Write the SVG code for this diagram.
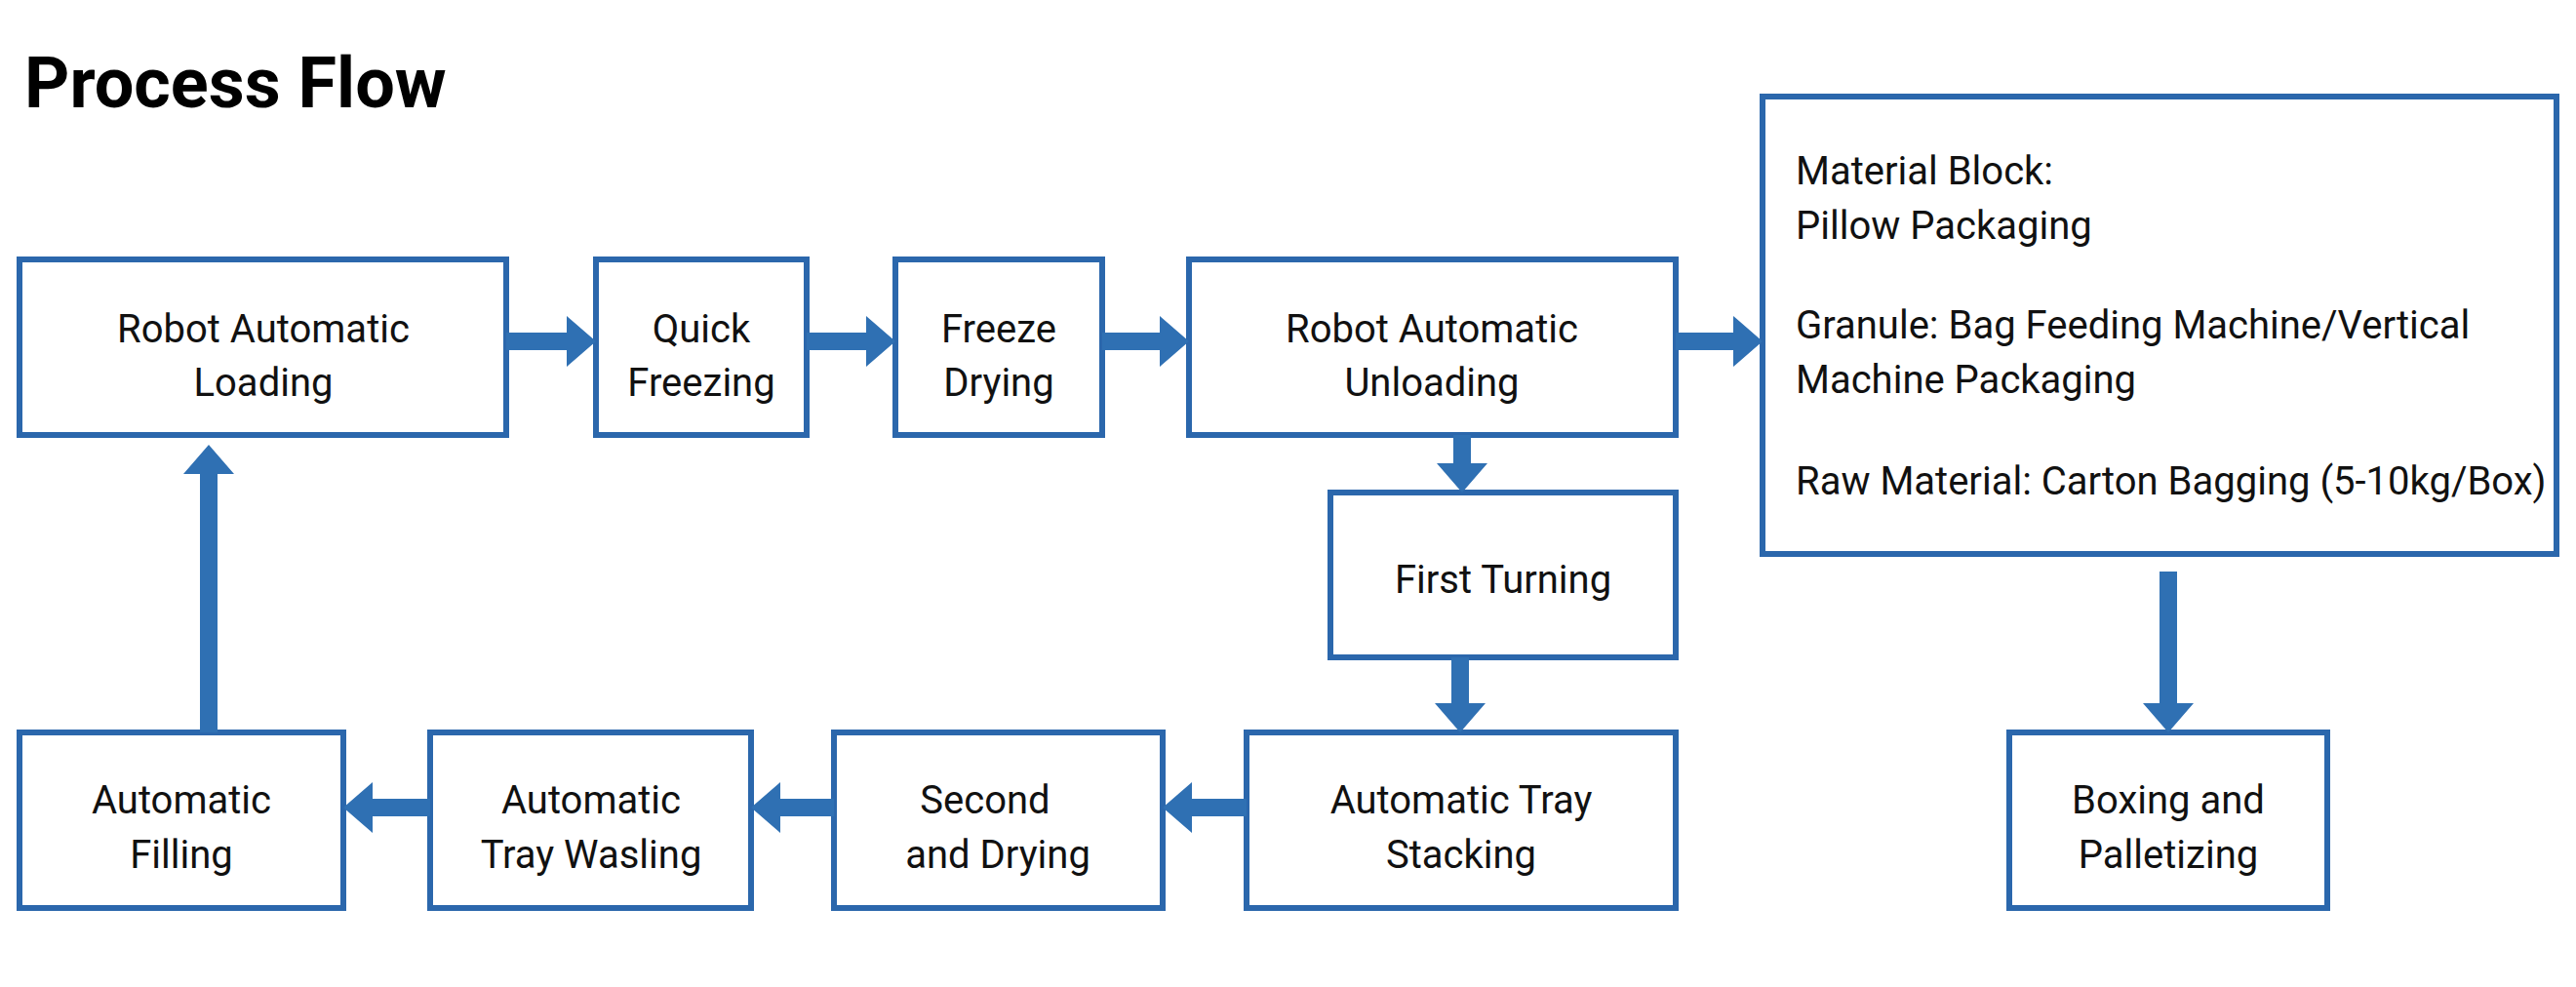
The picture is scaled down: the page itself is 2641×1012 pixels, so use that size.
<svg xmlns="http://www.w3.org/2000/svg" width="2641" height="1012" viewBox="0 0 2641 1012">
<style>
.b{fill:#fff;stroke:#2b67ac;stroke-width:6}
.t{font-family:Roboto,"Liberation Sans",sans-serif;font-size:40px;fill:#111;text-anchor:middle}
.l{text-anchor:start}
.a{fill:#2f70b3}
</style>
<rect width="2641" height="1012" fill="#fff"/>
<text x="25" y="110" font-family="Roboto,'Liberation Sans',sans-serif" font-weight="bold" font-size="72" fill="#000">Process Flow</text>
<g id="n1"><rect class="b" x="20" y="266" width="499" height="180"/><text class="t" x="270" y="351">Robot Automatic</text><text class="t" x="270" y="406">Loading</text></g>
<g id="n2"><rect class="b" x="611" y="266" width="216" height="180"/><text class="t" x="719" y="351">Quick</text><text class="t" x="719" y="406">Freezing</text></g>
<g id="n3"><rect class="b" x="918" y="266" width="212" height="180"/><text class="t" x="1024" y="351">Freeze</text><text class="t" x="1024" y="406">Drying</text></g>
<g id="n4"><rect class="b" x="1219" y="266" width="499" height="180"/><text class="t" x="1468" y="351">Robot Automatic</text><text class="t" x="1468" y="406">Unloading</text></g>
<g id="n5"><rect class="b" x="1807" y="99" width="814" height="469"/>
<text class="t l" x="1841" y="189">Material Block:</text><text class="t l" x="1841" y="245">Pillow Packaging</text>
<text class="t l" x="1841" y="347">Granule: Bag Feeding Machine/Vertical</text><text class="t l" x="1841" y="403">Machine Packaging</text>
<text class="t l" x="1841" y="507">Raw Material: Carton Bagging (5-10kg/Box)</text></g>
<g id="n6"><rect class="b" x="1364" y="505" width="354" height="169"/><text class="t" x="1541" y="608">First Turning</text></g>
<g id="n7"><rect class="b" x="1278" y="751" width="440" height="180"/><text class="t" x="1498" y="834">Automatic Tray</text><text class="t" x="1498" y="890">Stacking</text></g>
<g id="n8"><rect class="b" x="855" y="751" width="337" height="180"/><text class="t" x="1010" y="834">Second</text><text class="t" x="1023" y="890">and Drying</text></g>
<g id="n9"><rect class="b" x="441" y="751" width="329" height="180"/><text class="t" x="606" y="834">Automatic</text><text class="t" x="606" y="890">Tray Wasling</text></g>
<g id="n10"><rect class="b" x="20" y="751" width="332" height="180"/><text class="t" x="186" y="834">Automatic</text><text class="t" x="186" y="890">Filling</text></g>
<g id="n11"><rect class="b" x="2060" y="751" width="326" height="180"/><text class="t" x="2223" y="834">Boxing and</text><text class="t" x="2223" y="890">Palletizing</text></g>
<g id="connectors" class="a">
<polygon points="519,341 581,341 581,324 611,350 581,376 581,359 519,359"/>
<polygon points="827,341 888,341 888,324 918,350 888,376 888,359 827,359"/>
<polygon points="1130,341 1189,341 1189,324 1219,350 1189,376 1189,359 1130,359"/>
<polygon points="1718,341 1777,341 1777,324 1807,350 1777,376 1777,359 1718,359"/>
<polygon points="1490,446 1490,475 1473,475 1499,505 1525,475 1508,475 1508,446"/>
<polygon points="1488,674 1488,721 1471,721 1497,751 1523,721 1506,721 1506,674"/>
<polygon points="2214,586 2214,721 2197,721 2223,751 2249,721 2232,721 2232,586"/>
<polygon points="1278,819 1222,819 1222,802 1192,828 1222,854 1222,837 1278,837"/>
<polygon points="855,819 800,819 800,802 770,828 800,854 800,837 855,837"/>
<polygon points="441,819 382,819 382,802 352,828 382,854 382,837 441,837"/>
<polygon points="205,751 205,486 188,486 214,456 240,486 223,486 223,751"/>
</g>
</svg>
